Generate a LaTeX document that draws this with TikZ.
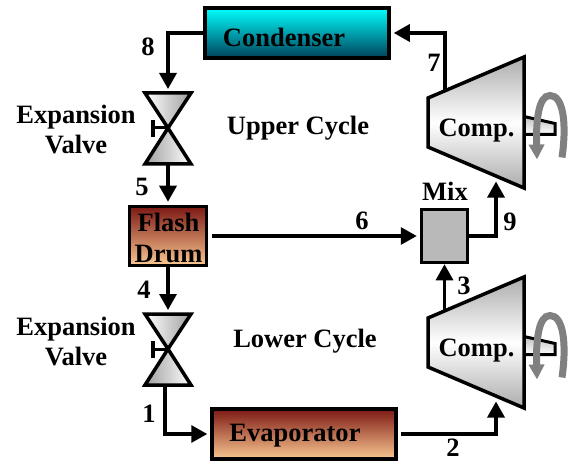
\documentclass[tikz,border=0pt]{standalone}
\usepackage{fontspec}
\setmainfont{Liberation Serif}
\usepackage{tikz}
\usetikzlibrary{positioning,arrows.meta}
\definecolor{cond-top}{RGB}{0,255,255}
\definecolor{cond-bot}{RGB}{0,65,90}
\definecolor{heat-top}{RGB}{125,25,20}
\definecolor{heat-bot}{RGB}{250,200,145}
\definecolor{mix-gray}{RGB}{185,185,185}
\tikzset{
    txt/.style={font=\fontsize{26.5}{30}\selectfont\bfseries,inner sep=0pt,align=center},
    pipe/.style={line width=3.2,shorten >=3pt,-{Triangle[length=16pt,width=17pt]}},
    cond/.style={draw,line width=3.5,top color=cond-top,bottom color=cond-bot},
    heat/.style={draw,line width=3.5,top color=heat-top,bottom color=heat-bot},
    pics/valve/.style={code={
        \draw[line width=3.5,left color=white,right color=gray!75] (-23,-35) -- (23,-35) -- (0,0) -- cycle;
        \draw[line width=3.5,left color=gray!75,right color=white] (-23,36) -- (23,36) -- (0,0) -- cycle;
        \draw[line width=3] (0,0) -- (-15,0);
        \draw[line width=3.5] (-15,-8) -- (-15,9);
        \coordinate (-top) at (0,-36);
        \coordinate (-bot) at (0,37);
    }},
    pics/comp/.style={code={
        \draw[line width=3,top color=gray!50,bottom color=white] (96,-6) -- (127,1) -- (127,12) -- (96,12) -- cycle;
        \draw[line width=3.5,bottom color=gray!65,top color=gray!65,middle color=white] (0,-24.5) -- (96,-65.5) -- (96,65.5) -- (0,24.5) -- cycle;
        \node[txt] (-name) at (48.5,8) {Comp.};
        \draw[line width=7,gray,-{Triangle[length=15pt,width=15pt]}] (134,35) .. controls (139,0) and (135,-27) .. (122,-27) .. controls (110,-27) and (108,0) .. (109,37);
        \coordinate (-out) at (17,-31);
        \coordinate (-in) at (68,56);
    }},
}
\begin{document}
\begin{tikzpicture}[x=1pt,y=-1pt]
    \useasboundingbox (0,0) rectangle (569,462);
    % equipment
    \node[cond,minimum width=184,minimum height=50] (condenser) at (297,33) {};
    \node[heat,minimum width=77,minimum height=59] (drum) at (168,236) {};
    \node[heat,minimum width=184,minimum height=50] (evap) at (304,434) {};
    \node[draw,line width=3.5,fill=mix-gray,minimum width=46,minimum height=53] (mix) at (444.5,236) {};
    \pic (vu) at (168,128) {valve};
    \pic (vl) at (168,349) {valve};
    \pic (cu) at (428,122.5) {comp};
    \pic (cl) at (428,342.5) {comp};
    % streams
    \coordinate (drum-out) at (212,236);
    \coordinate (evap-out) at (401,434);
    \coordinate (vl-out) at (165,386);
    \draw[pipe] (condenser.west) -| (vu-top);
    \draw[pipe] (vu-bot) -- (drum.north);
    \draw[pipe] (drum.south) -- (vl-top);
    \draw[pipe] (drum-out) -- (mix.west);
    \draw[pipe] (vl-out) |- (evap.west);
    \draw[pipe] (evap-out) -| (cl-in);
    \draw[pipe,shorten >=0pt] (cl-out -| mix.south) -- (mix.south);
    \draw[pipe] (mix.east) -| (cu-in);
    \draw[pipe] (cu-out) |- (condenser.east);
    % labels
    \node[txt] (condname) at (284,37) {Condenser};
    \node[txt] (drumname) at (168.5,238) {Flash\\[1pt]Drum};
    \node[txt] (evapname) at (295,436) {Evaporator};
    \node[txt] (n8) at (148,47) {8};
    \node[txt] (n5) at (142,187) {5};
    \node[txt] (n4) at (144,290) {4};
    \node[txt] (n1) at (149,414) {1};
    \node[txt] (n2) at (453,448) {2};
    \node[txt] (n3) at (464,286) {3};
    \node[txt] (n9) at (510,222) {9};
    \node[txt] (n6) at (362,221) {6};
    \node[txt] (n7) at (434,63) {7};
    \node[txt] (mixname) at (445,191) {Mix};
    \node[txt] (upper) at (298,128) {Upper Cycle};
    \node[txt] (lower) at (305,341) {Lower Cycle};
    \node[txt] (vuname) at (76,130) {Expansion\\Valve};
    \node[txt] (vlname) at (76,342) {Expansion\\Valve};
\end{tikzpicture}
\end{document}
